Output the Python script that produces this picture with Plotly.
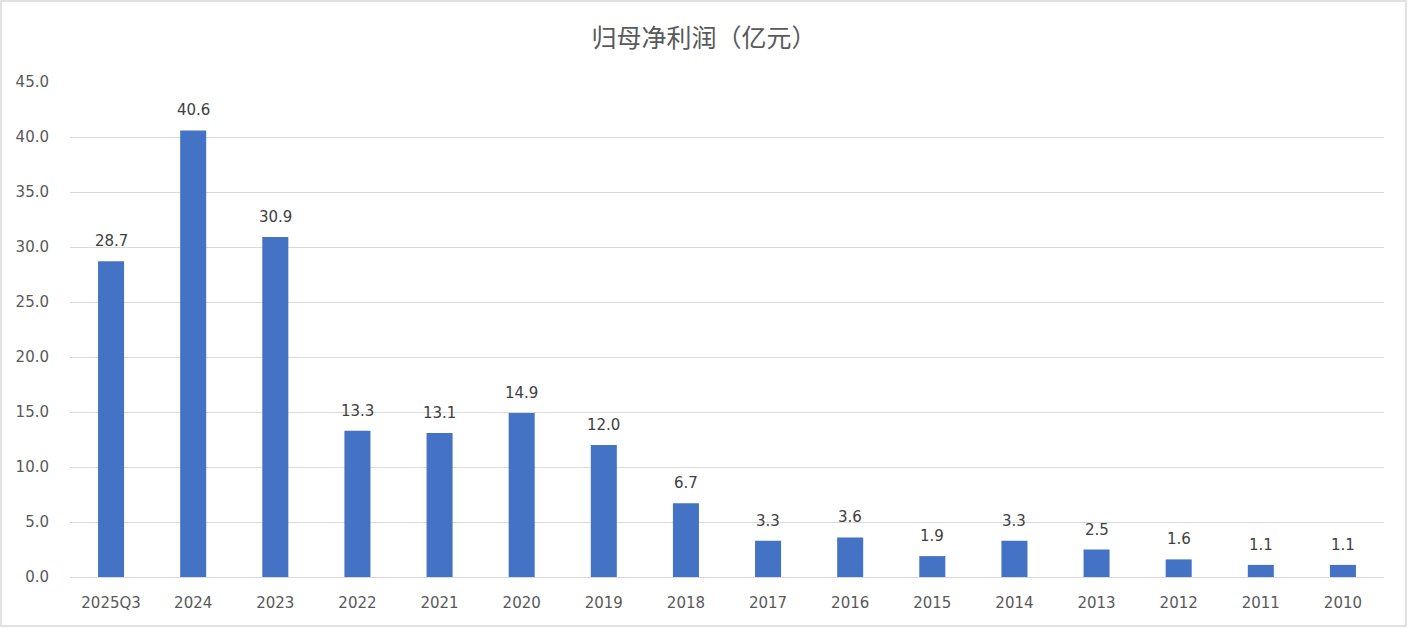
import plotly.graph_objects as go

categories = ["2025Q3", "2024", "2023", "2022", "2021", "2020", "2019", "2018",
              "2017", "2016", "2015", "2014", "2013", "2012", "2011", "2010"]
profit = [28.7, 40.6, 30.9, 13.3, 13.1, 14.9, 12.0, 6.7,
          3.3, 3.6, 1.9, 3.3, 2.5, 1.6, 1.1, 1.1]
y_ticks = [0, 5, 10, 15, 20, 25, 30, 35, 40, 45]
title_text = "归母净利润（亿元）"

W, H = 1408, 628
ml, mr, mt, mb = 70, 24, 82, 51
pw, ph = W - ml - mr, H - mt - mb

cjk_font = "Noto Sans CJK SC, Microsoft YaHei, sans-serif"
num_font = "DejaVu Sans, sans-serif"

fig = go.Figure()
fig.add_trace(go.Bar(
    x=categories, y=profit,
    marker=dict(color="#4472C4", line=dict(width=0)),
    hoverinfo="x+y",
))

# data labels: on a category axis, annotation x is the category's serial index
for i, v in enumerate(profit):
    fig.add_annotation(x=i, y=v, text=f"{v:.1f}", showarrow=False,
                       yanchor="middle", yshift=20,
                       font=dict(family=num_font, size=15, color="#404040"))

fig.update_layout(
    width=W, height=H,
    margin=dict(l=ml, r=mr, t=mt, b=mb),
    paper_bgcolor="white", plot_bgcolor="white",
    bargap=0.683,
    showlegend=False,
    title=dict(text=title_text, x=0.5, xanchor="center", y=1 - 38 / H, yanchor="middle",
               font=dict(family=cjk_font, size=25, color="#595959")),
    xaxis=dict(type="category", categoryorder="array", categoryarray=categories,
               range=[-0.5, len(categories) - 0.5],
               showgrid=False, showline=False, zeroline=False,
               tickfont=dict(family=num_font, size=15, color="#595959"),
               ticklabelstandoff=15, fixedrange=True),
    yaxis=dict(range=[0, 45], tickvals=y_ticks, ticktext=[f"{v:.1f}" for v in y_ticks],
               showgrid=True, gridcolor="#D9D9D9", gridwidth=1.3,
               zeroline=True, zerolinecolor="#D9D9D9", zerolinewidth=1.3,
               showline=False,
               tickfont=dict(family=num_font, size=15, color="#595959"),
               ticklabelstandoff=20, fixedrange=True),
)

# outer chart border
fig.add_shape(type="rect", xref="paper", yref="paper",
              x0=(-ml + 1) / pw, x1=(pw + mr - 2) / pw,
              y0=(-mb + 2) / ph, y1=(ph + mt - 1) / ph,
              line=dict(color="#D9D9D9", width=1.5), fillcolor="rgba(0,0,0,0)", layer="below")

fig.write_html("out.html", config={"displayModeBar": False},
               post_script="document.body.style.margin='0';document.body.style.overflow='hidden';")
